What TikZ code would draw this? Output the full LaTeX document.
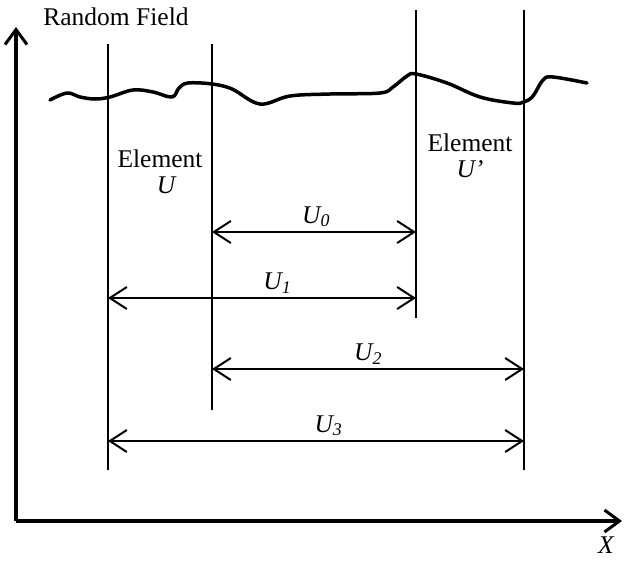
\documentclass[tikz,border=0pt]{standalone}
\usepackage{fontspec}
\setmainfont{Liberation Serif}
\usetikzlibrary{arrows.meta,positioning}

\begin{document}
\begin{tikzpicture}[
    x=1pt, y=-1pt,
    node distance=6pt,
    txt/.style={inner sep=1pt, font=\fontsize{25.5}{28}\selectfont},
    lbl/.style={inner sep=1pt, font=\fontsize{25.5}{28}\selectfont\itshape},
    axis/.style={line width=3.5pt, -{Straight Barb[length=15pt,width=22pt,line width=3pt]}},
    wall/.style={line width=2pt},
    span/.style={line width=2pt, {Straight Barb[length=17pt,width=22pt]}-{Straight Barb[length=17pt,width=22pt]}},
    field/.style={line width=3.5pt, line cap=round, line join=round},
]
    \useasboundingbox (0,0) rectangle (626,560);

    % axes
    \coordinate (origin) at (16,521);
    \coordinate (ytip) at (16,27);
    \coordinate (xtip) at (622,521);
    \draw[axis] (origin) -- (ytip);
    \draw[axis] (origin) -- (xtip);
    \node[txt] (fieldlbl) at (116,17) {Random Field};
    \node[lbl] (xlbl) at (606,545) {X};

    % random field
    \draw[field] plot[smooth, tension=0.6] coordinates {
        (50,100) (67,93) (80,97) (95,99) (110,97) (133,90) (153,92) (172,97)
        (179,88) (188,83) (212,84) (232,89) (260,104) (290,96) (330,94)
        (380,93) (393,87) (407,76) (416,74) (447,83) (480,97) (513,103)
        (524,102) (533,96) (543,80) (553,77) (587,83)};

    % element boundaries
    \coordinate (a top) at (108,44);
    \coordinate (a bot) at (108,470);
    \coordinate (b top) at (212,44);
    \coordinate (b bot) at (212,410);
    \coordinate (c top) at (416,10);
    \coordinate (c bot) at (416,318);
    \coordinate (d top) at (524,10);
    \coordinate (d bot) at (524,470);
    \draw[wall] (a top) -- (a bot);
    \draw[wall] (b top) -- (b bot);
    \draw[wall] (c top) -- (c bot);
    \draw[wall] (d top) -- (d bot);

    \node[txt] (elemA) at (160,159) {Element};
    \node[lbl, below=of elemA, xshift=6pt] (uA) {U};
    \node[txt] (elemB) at (470,143) {Element};
    \node[lbl, below=of elemB] (uB) {U'};

    % distances
    \coordinate (u0l) at (212,232);
    \coordinate (u0r) at (416,232);
    \coordinate (u1l) at (108,298);
    \coordinate (u1r) at (416,298);
    \coordinate (u2l) at (212,369);
    \coordinate (u2r) at (524,369);
    \coordinate (u3l) at (108,441);
    \coordinate (u3r) at (524,441);

    \draw[span] (u0l) -- (u0r) node[lbl, pos=0.51, above=3pt] (u0) {U\textsubscript{0}};
    \draw[span] (u1l) -- (u1r) node[lbl, pos=0.55, above=3pt] (u1) {U\textsubscript{1}};
    \draw[span] (u2l) -- (u2r) node[lbl, pos=0.5, above=3pt] (u2) {U\textsubscript{2}};
    \draw[span] (u3l) -- (u3r) node[lbl, pos=0.53, above=3pt] (u3) {U\textsubscript{3}};

\end{tikzpicture}
\end{document}
